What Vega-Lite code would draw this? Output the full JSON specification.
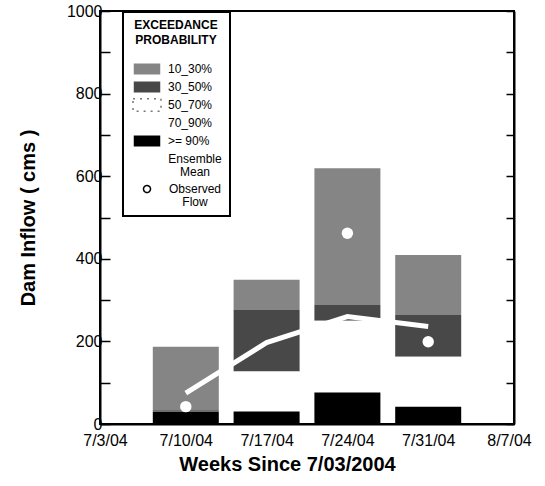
{
  "$schema": "https://vega.github.io/schema/vega-lite/v6.json",
  "width": 414,
  "height": 413,
  "autosize": {"type": "none"},
  "padding": {"left": 100, "top": 11, "right": 31, "bottom": 62},
  "background": "white",
  "config": {
    "font": "Liberation Sans",
    "view": {"stroke": "black", "strokeWidth": 2},
    "axis": {
      "domainColor": "black", "domainWidth": 2, "tickColor": "black", "tickWidth": 1.5,
      "labelColor": "black", "titleColor": "black", "grid": false,
      "labelFont": "Liberation Sans", "titleFont": "Liberation Sans"
    }
  },
  "datasets": {
    "bands": [
      {"week": "2004-07-10T00:00:00", "band": "10_30%", "low": 33, "high": 187},
      {"week": "2004-07-10T00:00:00", "band": "30_50%", "low": 31, "high": 33},
      {"week": "2004-07-10T00:00:00", "band": "50_70%", "low": 30.5, "high": 31},
      {"week": "2004-07-10T00:00:00", "band": "70_90%", "low": 30, "high": 30.5},
      {"week": "2004-07-10T00:00:00", "band": ">= 90%", "low": 0, "high": 30},
      {"week": "2004-07-17T00:00:00", "band": "10_30%", "low": 276, "high": 349},
      {"week": "2004-07-17T00:00:00", "band": "30_50%", "low": 127, "high": 276},
      {"week": "2004-07-17T00:00:00", "band": "50_70%", "low": 75, "high": 127},
      {"week": "2004-07-17T00:00:00", "band": "70_90%", "low": 30, "high": 75},
      {"week": "2004-07-17T00:00:00", "band": ">= 90%", "low": 0, "high": 30},
      {"week": "2004-07-24T00:00:00", "band": "10_30%", "low": 288, "high": 619},
      {"week": "2004-07-24T00:00:00", "band": "30_50%", "low": 250, "high": 288},
      {"week": "2004-07-24T00:00:00", "band": "50_70%", "low": 150, "high": 250},
      {"week": "2004-07-24T00:00:00", "band": "70_90%", "low": 76, "high": 150},
      {"week": "2004-07-24T00:00:00", "band": ">= 90%", "low": 0, "high": 76},
      {"week": "2004-07-31T00:00:00", "band": "10_30%", "low": 264, "high": 409},
      {"week": "2004-07-31T00:00:00", "band": "30_50%", "low": 163, "high": 264},
      {"week": "2004-07-31T00:00:00", "band": "50_70%", "low": 100, "high": 163},
      {"week": "2004-07-31T00:00:00", "band": "70_90%", "low": 42, "high": 100},
      {"week": "2004-07-31T00:00:00", "band": ">= 90%", "low": 0, "high": 42}
    ],
    "mean": [
      {"week": "2004-07-10T00:00:00", "flow": 75},
      {"week": "2004-07-17T00:00:00", "flow": 197},
      {"week": "2004-07-24T00:00:00", "flow": 260},
      {"week": "2004-07-31T00:00:00", "flow": 236}
    ],
    "obs": [
      {"week": "2004-07-10T00:00:00", "flow": 42},
      {"week": "2004-07-17T00:00:00", "flow": 54},
      {"week": "2004-07-24T00:00:00", "flow": 462},
      {"week": "2004-07-31T00:00:00", "flow": 199}
    ]
  },
  "resolve": {"axis": {"y": "independent"}},
  "layer": [
    {
      "data": {"name": "bands"},
      "mark": {"type": "bar", "size": 66},
      "encoding": {
        "x": {
          "field": "week", "type": "temporal",
          "scale": {"domain": [{"year": 2004, "month": 7, "date": 3}, {"year": 2004, "month": 8, "date": 7}]},
          "axis": {
            "values": [
              {"year": 2004, "month": 7, "date": 3}, {"year": 2004, "month": 7, "date": 10},
              {"year": 2004, "month": 7, "date": 17}, {"year": 2004, "month": 7, "date": 24},
              {"year": 2004, "month": 7, "date": 31}, {"year": 2004, "month": 8, "date": 7}
            ],
            "format": "%-m/%-d/%y", "labelFontSize": 16, "tickSize": 0, "labelPadding": 8,
            "labelFlush": false, "labelOverlap": false, "labelDx": -12,
            "title": "Weeks Since 7/03/2004", "titleFontSize": 20, "titleFontWeight": "bold",
            "titlePadding": 6, "titleX": 187
          }
        },
        "y": {
          "field": "low", "type": "quantitative",
          "scale": {"domain": [0, 1000]},
          "axis": {
            "orient": "left",
            "values": [0, 100, 200, 300, 400, 500, 600, 700, 800, 900, 1000],
            "format": "d",
            "labelExpr": "datum.value % 200 == 0 ? datum.label : ''",
            "labelFontSize": 16, "tickSize": -10, "labelPadding": 8,
            "title": "Dam Inflow ( cms )", "titleFontSize": 20, "titleFontWeight": "bold",
            "titlePadding": 28
          }
        },
        "y2": {"field": "high"},
        "color": {
          "field": "band", "type": "nominal",
          "scale": {
            "domain": ["10_30%", "30_50%", "50_70%", "70_90%", ">= 90%", "Ensemble Mean", "Observed Flow"],
            "range": ["#858585", "#484848", "white", "white", "black", "white", "white"]
          },
          "legend": {
            "title": ["EXCEEDANCE", "PROBABILITY"],
            "orient": "none", "legendX": 23, "legendY": 1,
            "titleFontSize": 12, "titleFontWeight": "bold", "titleAnchor": "middle", "titleAlign": "center",
            "titleLineHeight": 15, "titlePadding": 14, "titleColor": "black",
            "labelFontSize": 12, "labelColor": "black", "labelOffset": 13,
            "strokeColor": "black", "fillColor": "white", "padding": 8, "rowPadding": -3,
            "symbolType": "M-2,-0.9H2V0.9H-2Z", "symbolSize": 196, "symbolOffset": 8,
            "labelExpr": "datum.label == 'Ensemble Mean' ? ['Ensemble', 'Mean'] : datum.label == 'Observed Flow' ? ['Observed', 'Flow'] : datum.label",
            "encode": {
              "legend": {"update": {"strokeWidth": {"value": 2}}},
              "labels": {"update": {
                "align": {"signal": "datum.value == 'Ensemble Mean' || datum.value == 'Observed Flow' ? 'center' : 'left'"},
                "dx": {"signal": "datum.value == 'Ensemble Mean' || datum.value == 'Observed Flow' ? 27 : 0"},
                "dy": {"signal": "datum.value == 'Observed Flow' ? 3 : 0"},
                "lineHeight": {"value": 13}
              }},
              "symbols": {"update": {
                "shape": {"signal": "datum.value == 'Observed Flow' ? 'M-0.5,0.43A0.5,0.5 0 1,0 0.5,0.43A0.5,0.5 0 1,0 -0.5,0.43Z' : 'M-2,-0.9H2V0.9H-2Z'"},
                "stroke": {"signal": "datum.value == 'Observed Flow' ? 'black' : datum.value == '50_70%' ? '#777777' : 'white'"},
                "strokeWidth": {"value": 1.5},
                "strokeDash": {"signal": "datum.value == '50_70%' ? [2, 5] : [1, 0]"},
                "opacity": {"value": 1}
              }}
            }
          }
        }
      }
    },
    {
      "data": {"name": "mean"},
      "mark": {"type": "line", "strokeWidth": 5, "color": "white"},
      "encoding": {
        "x": {"field": "week", "type": "temporal"},
        "y": {"field": "flow", "type": "quantitative", "axis": null}
      }
    },
    {
      "data": {"name": "obs"},
      "mark": {"type": "point", "filled": true, "size": 130, "opacity": 1, "color": "white"},
      "encoding": {
        "x": {"field": "week", "type": "temporal"},
        "y": {"field": "flow", "type": "quantitative", "axis": null}
      }
    },
    {
      "data": {"name": "obs"},
      "mark": {"type": "point", "opacity": 0},
      "encoding": {
        "x": {"field": "week", "type": "temporal"},
        "y": {
          "field": "flow", "type": "quantitative",
          "axis": {
            "orient": "right", "values": [0, 100, 200, 300, 400, 500, 600, 700, 800, 900, 1000],
            "labels": false, "tickSize": -8, "title": null
          }
        }
      }
    }
  ]
}
